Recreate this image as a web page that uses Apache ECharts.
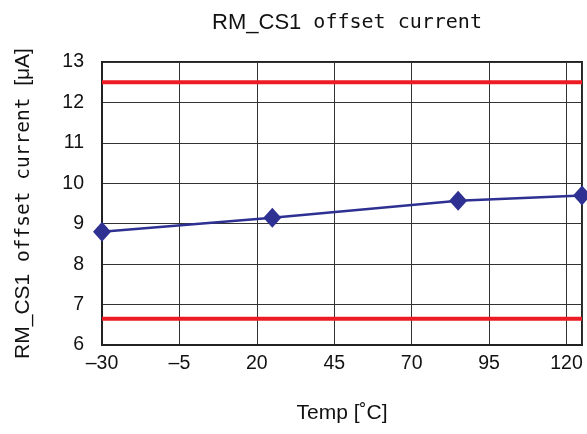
<!DOCTYPE html>
<html><head><meta charset="utf-8">
<script src="https://cdn.jsdelivr.net/npm/echarts@6/dist/echarts.min.js"></script>
<style>html,body{margin:0;padding:0;background:#fff}#c{width:587px;height:434px}</style>
</head><body><div id="c"></div>
<script>
const temps = [-30, 25, 85, 125];
const offsetCurrent = [8.8, 9.15, 9.57, 9.7];
const upperLimit = 12.5;
const lowerLimit = 6.65;
const xMin = -30, xMax = 125, xStep = 25;
const yMin = 6, yMax = 13, yStep = 1;
const titleParts = ['RM_CS1', 'offset current'];
const xName = 'Temp [˚C]';
const yNameParts = ['RM_CS1', 'offset current', '[μA]'];

const chart = echarts.init(document.getElementById('c'), null, {renderer: 'canvas'});
const labelFont = 'Liberation Sans, Arial, sans-serif';
const monoFont = '"DejaVu Sans Mono", monospace';
chart.setOption({
  animation: false,
  title: {text: '{s|' + titleParts[0] + '}{m| ' + titleParts[1] + '}', left: 342, top: 7, textAlign: 'center',
    textStyle: {color: '#111', fontWeight: 'normal', rich: {
      s: {fontFamily: labelFont, fontSize: 22, fontWeight: 'normal', color: '#111'},
      m: {fontFamily: monoFont, fontSize: 20, fontWeight: 'normal', color: '#111'}
    }}},
  grid: {left: 102, right: 5, top: 62, bottom: 89, show: true, borderColor: '#222', borderWidth: 2, backgroundColor: '#fff'},
  xAxis: {
    type: 'value', min: xMin, max: xMax, interval: xStep,
    name: xName, nameLocation: 'middle', nameGap: 58,
    nameTextStyle: {fontFamily: labelFont, fontSize: 21, color: '#111'},
    axisLine: {show: true, onZero: false, lineStyle: {color: '#222', width: 2}},
    axisTick: {show: false},
    axisLabel: {showMaxLabel: false, margin: 9, fontFamily: labelFont, fontSize: 19.5, color: '#111',
      formatter: v => String(v).replace('-', '\u2013')},
    splitLine: {show: true, lineStyle: {color: '#333', width: 1}}
  },
  yAxis: {
    type: 'value', min: yMin, max: yMax, interval: yStep,
    name: '{s|' + yNameParts[0] + '}{m| ' + yNameParts[1] + ' }{s|' + yNameParts[2] + '}',
    nameLocation: 'middle', nameGap: 68, nameRotate: 90,
    nameTextStyle: {color: '#111', rich: {
      s: {fontFamily: labelFont, fontSize: 21, fontWeight: 'normal', color: '#111'},
      m: {fontFamily: monoFont, fontSize: 19.5, fontWeight: 'normal', color: '#111'}
    }},
    axisLine: {show: true, onZero: false, lineStyle: {color: '#222', width: 2}},
    axisTick: {show: false},
    axisLabel: {margin: 18, fontFamily: labelFont, fontSize: 19.5, color: '#111'},
    splitLine: {show: true, lineStyle: {color: '#333', width: 1}}
  },
  series: [
    {type: 'line', data: [[xMin, upperLimit], [xMax, upperLimit]], symbol: 'none',
      lineStyle: {color: '#ed1c24', width: 4}, z: 3},
    {type: 'line', data: [[xMin, lowerLimit], [xMax, lowerLimit]], symbol: 'none',
      lineStyle: {color: '#ed1c24', width: 4}, z: 3},
    {type: 'line', data: temps.map((t, i) => [t, offsetCurrent[i]]),
      symbol: 'diamond', symbolSize: [18, 20],
      itemStyle: {color: '#2e3192'}, lineStyle: {color: '#2e3192', width: 2.5}, z: 5}
  ]
});
</script></body></html>
